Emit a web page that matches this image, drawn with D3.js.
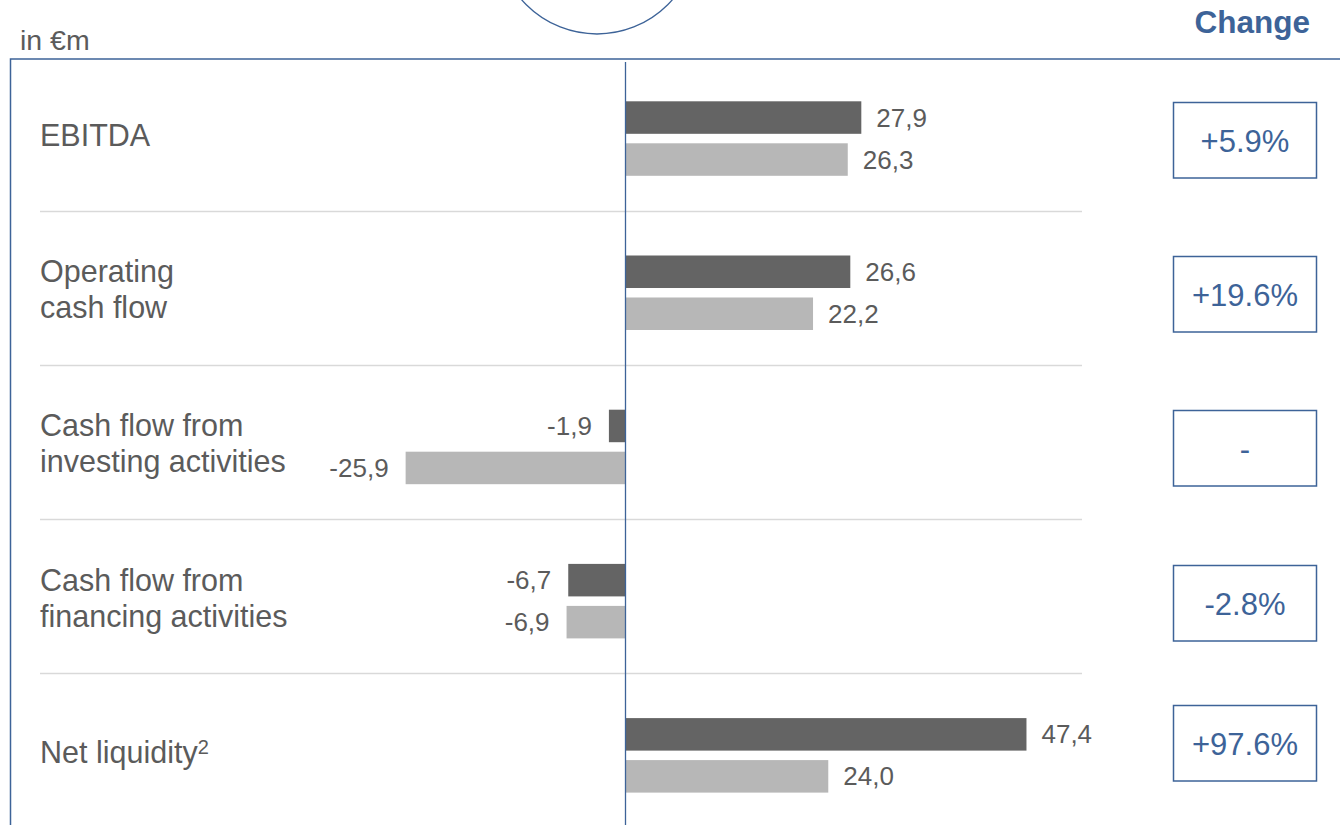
<!DOCTYPE html>
<html>
<head>
<meta charset="utf-8">
<script src="https://cdn.jsdelivr.net/npm/d3@7"></script>
<style>
  html, body { margin: 0; padding: 0; background: #ffffff; }
  svg { display: block; font-family: "Liberation Sans", Arial, sans-serif; }
</style>
</head>
<body>
<svg id="chart" width="1340" height="825"></svg>
<script>
// ---- data ----
const categories = ["EBITDA", "Operating\ncash flow", "Cash flow from\ninvesting activities", "Cash flow from\nfinancing activities", "Net liquidity"];
const footnotes = ["", "", "", "", "2"];
const seriesNames = ["current", "prior"];
const currentValues = [27.9, 26.6, -1.9, -6.7, 47.4];
const priorValues = [26.3, 22.2, -25.9, -6.9, 24.0];
const changeLabels = ["+5.9%", "+19.6%", "-", "-2.8%", "+97.6%"];
const unitLabel = "in €m";
const changeTitle = "Change";

// ---- styles ----
const blue = "#3d6398";
const darkBar = "#646464";
const lightBar = "#b7b7b7";
const textGrey = "#5b5b5b";

const svg = d3.select("#chart");

// scales
const x = d3.scaleLinear().domain([-30, 50]).range([625 - 30 * 8.47, 625 + 50 * 8.47]);
const y = d3.scaleBand().domain(d3.range(categories.length)).range([56.5, 56.5 + 154.2 * categories.length]);
const ySub = d3.scaleBand().domain(seriesNames).range([44.8, 119.3]).paddingInner(0.226);
const color = d3.scaleOrdinal().domain(seriesNames).range([darkBar, lightBar]);
const fmt = v => d3.format(".1f")(v).replace(".", ",").replace("\u2212", "-");

// decorative circle at top
svg.append("circle")
  .attr("cx", 597).attr("cy", -66).attr("r", 100)
  .attr("fill", "none").attr("stroke", blue).attr("stroke-width", 1.3);

// frame
svg.append("path")
  .attr("d", "M10.5,826 V59 H1345")
  .attr("fill", "none").attr("stroke", blue).attr("stroke-width", 1.5);

// titles
svg.append("text").attr("x", 20).attr("y", 50)
  .attr("font-size", 28.5).attr("fill", textGrey).text(unitLabel);
svg.append("text").attr("x", 1310).attr("y", 33)
  .attr("text-anchor", "end").attr("font-size", 31.5).attr("font-weight", "bold")
  .attr("fill", blue).text(changeTitle);

// separators
svg.append("g").selectAll("line")
  .data(d3.range(1, categories.length))
  .join("line")
  .attr("x1", 40).attr("x2", 1082)
  .attr("y1", i => Math.round(y(i)) + 0.5).attr("y2", i => Math.round(y(i)) + 0.5)
  .attr("stroke", "#d9d9d9").attr("stroke-width", 1.3);

// category labels
const catG = svg.append("g");
categories.forEach((c, i) => {
  const lines = c.split("\n");
  const cy = y(i) + 79;
  const lh = 36;
  const t = catG.append("text")
    .attr("font-size", 30.5).attr("fill", textGrey);
  lines.forEach((ln, k) => {
    t.append("tspan")
      .attr("x", 40)
      .attr("y", cy + (k - (lines.length - 1) / 2) * lh + 10.5)
      .text(ln);
  });
  if (footnotes[i]) {
    t.append("tspan").attr("font-size", 20).attr("dy", -9).text(footnotes[i]);
  }
});

// bars
const rows = categories.map((c, i) => ({ i, values: [
  { key: "current", v: currentValues[i] },
  { key: "prior", v: priorValues[i] }
]}));

const rowG = svg.append("g").selectAll("g")
  .data(rows).join("g")
  .attr("transform", d => `translate(0,${y(d.i)})`);

rowG.selectAll("rect")
  .data(d => d.values)
  .join("rect")
  .attr("x", d => x(Math.min(0, d.v)))
  .attr("width", d => Math.abs(x(d.v) - x(0)))
  .attr("y", d => ySub(d.key))
  .attr("height", ySub.bandwidth())
  .attr("fill", d => color(d.key));

rowG.selectAll("text")
  .data(d => d.values)
  .join("text")
  .attr("x", d => d.v >= 0 ? x(d.v) + 15 : x(d.v) - 17)
  .attr("y", d => ySub(d.key) + ySub.bandwidth() / 2 + 9)
  .attr("text-anchor", d => d.v >= 0 ? "start" : "end")
  .attr("font-size", 26).attr("fill", textGrey)
  .text(d => fmt(d.v));

// zero axis
svg.append("line")
  .attr("x1", x(0) + 0.5).attr("x2", x(0) + 0.5)
  .attr("y1", 62).attr("y2", 826)
  .attr("stroke", blue).attr("stroke-width", 1.3);

// change boxes
const boxG = svg.append("g").selectAll("g")
  .data(changeLabels.map((c, i) => ({ c, i })))
  .join("g")
  .attr("transform", d => `translate(1173.5,${Math.round(y(d.i) + (d.i === changeLabels.length - 1 ? 32 : 45.5)) + 0.5})`);

boxG.append("rect")
  .attr("width", 143).attr("height", 75.5)
  .attr("fill", "#ffffff").attr("stroke", blue).attr("stroke-width", 1.5);

boxG.append("text")
  .attr("x", 71.5).attr("y", 49)
  .attr("text-anchor", "middle").attr("font-size", 31).attr("fill", blue)
  .text(d => d.c);
</script>
</body>
</html>
